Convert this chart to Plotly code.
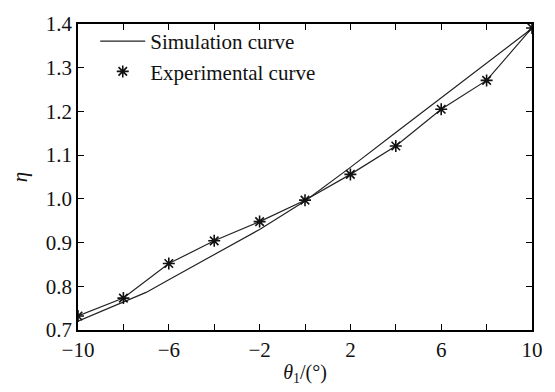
import plotly.graph_objects as go

theta_sim = [-10, -8, -7, -6, -4, -2, 0, 2, 4, 6, 8, 10]
eta_sim = [0.720, 0.764, 0.786, 0.815, 0.872, 0.930, 0.995, 1.072, 1.152, 1.232, 1.310, 1.390]

theta_exp = [-10, -8, -6, -4, -2, 0, 2, 4, 6, 8, 10]
eta_exp = [0.732, 0.773, 0.852, 0.904, 0.948, 0.997, 1.056, 1.121, 1.205, 1.271, 1.391]

x_tickvals = [-10, -6, -2, 2, 6, 10]
x_ticktext = ["−10", "−6", "−2", "2", "6", "10"]
y_tickvals = [0.7, 0.8, 0.9, 1.0, 1.1, 1.2, 1.3, 1.4]
y_ticktext = ["0.7", "0.8", "0.9", "1.0", "1.1", "1.2", "1.3", "1.4"]

FONT = "Liberation Serif"
marker_style = dict(symbol="asterisk-open", size=10, color="#111111",
                    line=dict(color="#111111", width=1.6))

fig = go.Figure()
fig.add_trace(go.Scatter(
    x=theta_sim, y=eta_sim, mode="lines", name="Simulation curve",
    line=dict(color="#222222", width=1.2),
))
fig.add_trace(go.Scatter(
    x=theta_exp, y=eta_exp, mode="lines+markers", name="Experimental curve",
    line=dict(color="#222222", width=1.2), marker=marker_style, showlegend=False,
))
fig.add_trace(go.Scatter(
    x=[None], y=[None], mode="markers", name="Experimental curve",
    marker=marker_style,
))

axis_common = dict(
    showline=True, linecolor="black", linewidth=1.5, mirror="ticks",
    ticks="inside", ticklen=6, tickwidth=1.3, tickcolor="black",
    showgrid=False, zeroline=False,
    tickfont=dict(family=FONT, size=21, color="#111111"),
)

fig.update_layout(
    width=555, height=392,
    margin=dict(l=78, r=23, t=17, b=59),
    paper_bgcolor="white", plot_bgcolor="white",
    font=dict(family=FONT, color="#111111"),
    showlegend=True,
    legend=dict(
        x=0.038, y=1.01, xanchor="left", yanchor="top",
        bgcolor="rgba(0,0,0,0)", borderwidth=0,
        font=dict(family=FONT, size=21, color="#111111"),
        itemwidth=45, tracegroupgap=0,
    ),
    xaxis=dict(
        range=[-10, 10], tickvals=x_tickvals, ticktext=x_ticktext,
        minor=dict(tick0=-10, dtick=2, ticks="inside", ticklen=6, tickwidth=1.3, tickcolor="black"),
        title=dict(text="<i>θ</i><sub>1</sub>/(°)", font=dict(family=FONT, size=20), standoff=4),
        **axis_common,
    ),
    yaxis=dict(
        range=[0.7, 1.4], tickvals=y_tickvals, ticktext=y_ticktext,
        title=dict(text="<i>η</i>", font=dict(family=FONT, size=21), standoff=12),
        **axis_common,
    ),
)

fig.write_html("out.html")
